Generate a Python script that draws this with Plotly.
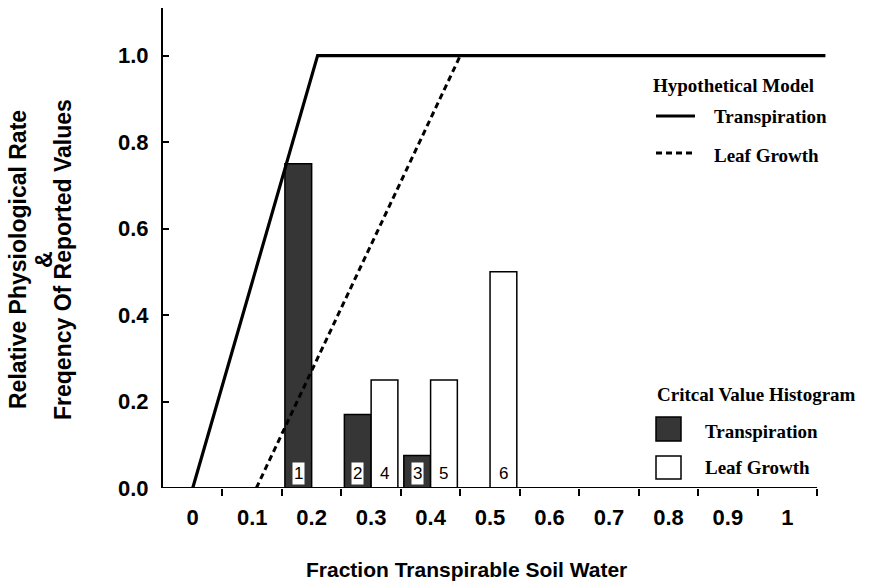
import plotly.graph_objects as go

# ---------------- data ----------------
bins_trans = [0.2, 0.3, 0.4]
freq_trans = [0.75, 0.17, 0.075]
labels_trans = ["1", "2", "3"]

bins_leaf = [0.3, 0.4, 0.5]
freq_leaf = [0.25, 0.25, 0.5]
labels_leaf = ["4", "5", "6"]

model_trans_x = [0.0, 0.21, 1.064]
model_trans_y = [0.0, 1.0, 1.0]
model_leaf_x = [0.107, 0.45]
model_leaf_y = [0.0, 1.0]

x_tick_vals = [0.0, 0.1, 0.2, 0.3, 0.4, 0.5, 0.6, 0.7, 0.8, 0.9, 1.0]
x_tick_text = ["0", "0.1", "0.2", "0.3", "0.4", "0.5", "0.6", "0.7", "0.8", "0.9", "1"]
x_bin_edges = [0.05, 0.15, 0.25, 0.35, 0.45, 0.55, 0.65, 0.75, 0.85, 0.95, 1.05]
y_tick_vals = [0.0, 0.2, 0.4, 0.6, 0.8, 1.0]
y_tick_text = ["0.0", "0.2", "0.4", "0.6", "0.8", "1.0"]

# ---------------- layout geometry ----------------
W, H = 869, 583
ML, MR, MT, MB = 163, 40, 8, 95
PW, PH = W - ML - MR, H - MT - MB


def px(x):
    return (x - ML) / PW


def py(y):
    return (H - MB - y) / PH


BAR_W = 0.045
DARK = "#363636"
SANS = "Liberation Sans, Arial, sans-serif"
SERIF = "Liberation Serif, Times New Roman, serif"

fig = go.Figure()

fig.add_trace(go.Bar(
    x=bins_trans, y=freq_trans, width=BAR_W, offset=-BAR_W,
    marker=dict(color=DARK, line=dict(color="black", width=1.5)),
    showlegend=False, hoverinfo="x+y"))
fig.add_trace(go.Bar(
    x=bins_leaf, y=freq_leaf, width=BAR_W, offset=0,
    marker=dict(color="white", line=dict(color="black", width=1.5)),
    showlegend=False, hoverinfo="x+y"))

fig.add_trace(go.Scatter(
    x=model_trans_x, y=model_trans_y, mode="lines",
    line=dict(color="black", width=3.2), showlegend=False, cliponaxis=False))
fig.add_trace(go.Scatter(
    x=model_leaf_x, y=model_leaf_y, mode="lines",
    line=dict(color="black", width=3, dash="6px,4px"), showlegend=False))

annotations = []
for b, lab in zip(bins_trans, labels_trans):
    annotations.append(dict(x=b - BAR_W / 2, y=0.034, xref="x", yref="y", text=lab,
                            showarrow=False, bgcolor="white", borderpad=1,
                            font=dict(family=SANS, size=17, color="black")))
for b, lab in zip(bins_leaf, labels_leaf):
    annotations.append(dict(x=b + BAR_W / 2, y=0.034, xref="x", yref="y", text=lab,
                            showarrow=False, borderpad=1,
                            font=dict(family=SANS, size=17, color="black")))

# y-axis title (three lines)
ytitle_font = dict(family=SANS, size=23, color="black")
for xp, txt in [(18, "<b>Relative Physiological Rate</b>"), (44, "<b>&</b>"),
                (63, "<b>Freqency Of Reported Values</b>")]:
    annotations.append(dict(x=px(xp), y=py(260), xref="paper", yref="paper", text=txt,
                            textangle=-90, showarrow=False, xanchor="center", yanchor="middle",
                            font=ytitle_font))
# x-axis title
annotations.append(dict(x=px(466), y=py(569), xref="paper", yref="paper",
                        text="<b>Fraction Transpirable Soil Water</b>", showarrow=False,
                        xanchor="center", yanchor="middle",
                        font=dict(family=SANS, size=21, color="black")))

# legends (drawn manually)
leg_font = dict(family=SERIF, size=19, color="black")
for xl, yc, txt in [(651, 85, "Hypothetical Model"), (712, 117, "Transpiration"),
                    (712, 155, "Leaf Growth"), (655, 394, "Critcal Value Histogram"),
                    (703, 431, "Transpiration"), (703, 467, "Leaf Growth")]:
    annotations.append(dict(x=px(xl), y=py(yc), xref="paper", yref="paper",
                            text="<b>" + txt + "</b>", showarrow=False,
                            xanchor="left", yanchor="middle", font=leg_font))

shapes = [
    # x axis line
    dict(type="line", xref="x", yref="y", x0=-0.05, x1=1.05, y0=0, y1=0,
         line=dict(color="black", width=2)),
    dict(type="line", xref="paper", yref="paper", x0=px(656), x1=px(695), y0=py(116), y1=py(116),
         line=dict(color="black", width=3)),
    dict(type="line", xref="paper", yref="paper", x0=px(656), x1=px(695), y0=py(153), y1=py(153),
         line=dict(color="black", width=3, dash="6px,4px")),
    dict(type="rect", xref="paper", yref="paper", x0=px(656), x1=px(681), y0=py(441), y1=py(417),
         fillcolor=DARK, line=dict(color="black", width=1.5)),
    dict(type="rect", xref="paper", yref="paper", x0=px(656), x1=px(681), y0=py(479), y1=py(456),
         fillcolor="white", line=dict(color="black", width=1.5)),
]

fig.update_layout(
    width=W, height=H,
    margin=dict(l=ML, r=MR, t=MT, b=MB, pad=0),
    paper_bgcolor="white", plot_bgcolor="white",
    barmode="overlay",
    showlegend=False,
    annotations=annotations,
    shapes=shapes,
    xaxis=dict(range=[-0.05, 1.07], showline=False, showgrid=False, zeroline=False,
               tickvals=x_tick_vals, ticktext=x_tick_text, ticks="",
               ticklabelstandoff=14,
               tickfont=dict(family=SANS, size=22, color="black", weight="bold"),
               minor=dict(tickvals=x_bin_edges, ticks="outside", ticklen=7,
                          tickwidth=2, tickcolor="black", showgrid=False)),
    yaxis=dict(range=[0, 1.11], showline=True, linecolor="black", linewidth=2,
               showgrid=False, zeroline=False,
               tickvals=y_tick_vals, ticktext=y_tick_text, ticks="inside",
               ticklen=6, tickwidth=2, tickcolor="black", ticklabelstandoff=8,
               tickfont=dict(family=SANS, size=22, color="black", weight="bold")),
)

fig.write_html("out.html")
